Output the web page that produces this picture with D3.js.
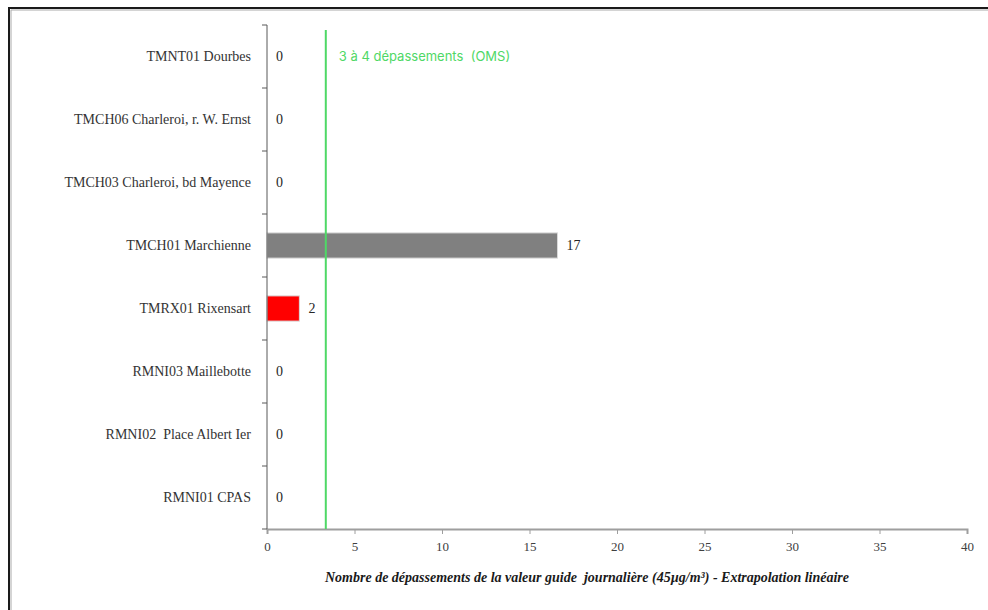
<!DOCTYPE html>
<html><head><meta charset="utf-8">
<script src="https://cdn.jsdelivr.net/npm/d3@7"></script>
<style>body{margin:0;background:#fff}svg{display:block}text{white-space:pre}</style>
</head><body>
<svg id="c" width="988" height="610"></svg>
<script>
const categories = ["TMNT01 Dourbes","TMCH06 Charleroi, r. W. Ernst","TMCH03 Charleroi, bd Mayence","TMCH01 Marchienne","TMRX01 Rixensart","RMNI03 Maillebotte","RMNI02  Place Albert Ier","RMNI01 CPAS"];
const values = [0,0,0,16.6,1.85,0,0,0];
const labels = ["0","0","0","17","2","0","0","0"];
const barColors = ["#808080","#808080","#808080","#808080","#ff0000","#808080","#808080","#808080"];
const xTicks = [0,5,10,15,20,25,30,35,40];
const omsValue = 3.36;
const omsLabel = "3 à 4 dépassements  (OMS)";
const xTitle = "Nombre de dépassements de la valeur guide  journalière (45µg/m³) - Extrapolation linéaire";

const serif = "'Liberation Serif','Times New Roman',serif";
const svg = d3.select("#c");
const x = d3.scaleLinear().domain([0,40]).range([267,967]);
const y = d3.scaleBand().domain(categories).range([25,529]).paddingInner(0.6).paddingOuter(0.3);
const yb = d3.scaleBand().domain(categories).range([25,529]);

// frame
svg.append("path").attr("d","M9,610 L9,8 L988,8").attr("fill","none").attr("stroke","#1a1a1a").attr("stroke-width",2);
svg.append("path").attr("d","M11,610 L11,10 L988,10").attr("fill","none").attr("stroke","#aaa").attr("stroke-width",1);

// bars
svg.append("g").selectAll("rect").data(categories).join("rect")
  .attr("x", x(0)).attr("y", d=>y(d))
  .attr("width", (d,i)=>x(values[i])-x(0)).attr("height", y.bandwidth())
  .attr("fill",(d,i)=>barColors[i])
  .attr("stroke",(d,i)=>values[i]>0?"#d9d9d9":"none").attr("stroke-width",1);

// value labels
svg.append("g").selectAll("text").data(categories).join("text")
  .attr("x",(d,i)=>x(values[i])+9).attr("y",d=>yb(d)+yb.bandwidth()/2)
  .attr("dy","0.35em").attr("font-family",serif)
  .attr("font-size",14).attr("fill","#262626").text((d,i)=>labels[i]);

// x axis
const xa = svg.append("g").attr("transform","translate(0,529)")
  .call(d3.axisBottom(x).tickValues(xTicks).tickSize(5).tickPadding(8));
xa.select(".domain").attr("stroke","#9e9e9e").attr("stroke-width",2);
xa.selectAll(".tick line").attr("stroke","#9e9e9e");
xa.selectAll(".tick text").attr("font-family",serif).attr("font-size",13).attr("fill","#404040");

// y axis
const ya = svg.append("g").attr("transform","translate(267,0)")
  .call(d3.axisLeft(yb).tickSize(0).tickPadding(16));
ya.select(".domain").attr("stroke","#595959").attr("d","M0,25V529");
ya.selectAll(".tick text").attr("font-family",serif).attr("font-size",14).attr("fill","#333");
const bounds = categories.map(d=>yb(d)).concat([529]);
svg.append("g").selectAll("line").data(bounds).join("line")
  .attr("x1",262).attr("x2",267).attr("y1",d=>d).attr("y2",d=>d).attr("stroke","#595959");

// OMS line
svg.append("line").attr("x1",x(omsValue)).attr("x2",x(omsValue)).attr("y1",30).attr("y2",529)
  .attr("stroke","#4fd866").attr("stroke-width",2);
svg.append("text").attr("x",x(omsValue)+13).attr("y",56).attr("dy","0.35em")
  .attr("font-family","Inter,'Noto Sans',sans-serif").attr("font-size",13).attr("fill","#4fd866").text(omsLabel);

// x title
svg.append("text").attr("x",587).attr("y",582).attr("text-anchor","middle")
  .attr("font-family",serif).attr("font-style","italic").attr("font-weight","bold")
  .attr("font-size",14).attr("fill","#1a1a1a").text(xTitle);
</script>
</body></html>
